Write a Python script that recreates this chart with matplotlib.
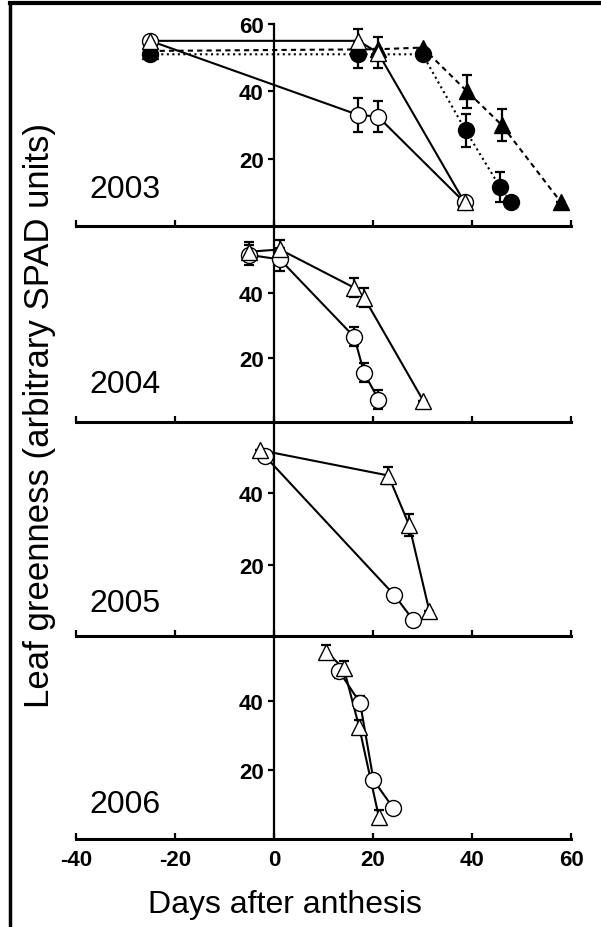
''' leaf greenness after anthesis, four seasons stacked'''
import matplotlib.pyplot as plt
from matplotlib.lines import Line2D

plt.rcParams['font.family'] = ['Liberation Sans', 'DejaVu Sans']
plt.rcParams['axes.unicode_minus'] = False

# ---- data (days after anthesis, SPAD units) ----
years = ['2003', '2004', '2005', '2006']

# 2003
days_03_open_circle = [-25, 17, 21, 38.5]
spad_03_open_circle = [55, 33, 32.5, 7]
err_03_open_circle = [0, 5, 4.5, 0]

days_03_open_tri = [-25, 17, 21, 38.5]
spad_03_open_tri = [55, 55, 51.5, 7]
err_03_open_tri = [0, 3.5, 4.5, 0]

days_03_fill_circle = [-25, 17, 30, 38.7, 45.7, 47.8]
spad_03_fill_circle = [51, 51, 51, 28.4, 11.5, 7.2]
err_03_fill_circle = [0, 4, 0, 5, 4.5, 0]

days_03_fill_tri = [-25, 21, 30, 39, 46, 58]
spad_03_fill_tri = [52, 52.5, 53, 40, 30, 7]
err_03_fill_tri = [0, 0, 0, 5, 4.7, 0]

# 2004
days_04_circle = [-5, 1.2, 16.2, 18.2, 21.1]
spad_04_circle = [52, 50.6, 26.5, 15.3, 7]
err_04_circle = [3, 3.5, 3, 3, 3]

days_04_tri = [-5, 1.2, 16.2, 18.2, 30.2]
spad_04_tri = [53, 53.7, 41.8, 38.7, 6.5]
err_04_tri = [3, 3, 3, 3, 0]

# 2005
days_05_circle = [-1.8, 24.3, 28.1]
spad_05_circle = [50.4, 11.5, 4.5]
err_05_circle = [0, 0, 0]

days_05_tri = [-2.8, 23.1, 27.3, 31.4]
spad_05_tri = [52.1, 45, 31.1, 6.9]
err_05_tri = [0, 2.5, 3, 0]

# 2006
days_06_circle = [13.2, 17.4, 20.1, 24.1]
spad_06_circle = [48.7, 39.5, 17.1, 9.0]
err_06_circle = [2, 2, 1.5, 1.5]

days_06_tri = [10.5, 14.1, 17.2, 21.2]
spad_06_tri = [54.4, 49.6, 32.6, 6.3]
err_06_tri = [2, 2, 2, 2]

x_ticks = [-40, -20, 0, 20, 40, 60]
label_y_pos = [11, 11.7, 9.3, 10.2]

W, H = 601, 928


def draw_series(ax, days, spad, err, marker, filled, style):
    ''' one line with error bars and markers on top'''
    ax.errorbar(days, spad, yerr=err, fmt='none', ecolor='k',
                elinewidth=1.6, capsize=3.5, capthick=1.6, zorder=2)
    ax.plot(days, spad, color='k', lw=1.5, ls=style, zorder=3)
    ax.plot(days, spad, ls='none', marker=marker, ms=11.5,
            mfc='k' if filled else 'white', mec='k', mew=1.0, zorder=4)


def setup_panel(ax, year, ymax, yticks, label_y, bottom):
    ax.set_xlim(-40, 60)
    ax.set_ylim(0, ymax)
    for side in ['top', 'right']:
        ax.spines[side].set_visible(False)
    ax.spines['left'].set_position(('data', 0))
    ax.spines['left'].set_linewidth(1.6)
    ax.spines['bottom'].set_linewidth(2.2)
    ax.set_xticks(x_ticks)
    ax.set_yticks(yticks)
    ax.tick_params(axis='x', direction='in', length=4, width=1.6,
                   labelbottom=bottom, labelsize=16, pad=7)
    ax.tick_params(axis='y', direction='out', length=4.5, width=1.6,
                   labelsize=16, pad=3)
    for lab in ax.get_xticklabels() + ax.get_yticklabels():
        lab.set_fontweight('bold')
    ax.set_facecolor('none')
    ax.text(-37.2, label_y, year, fontsize=23, va='center', ha='left')


fig = plt.figure(figsize=(W / 100, H / 100), dpi=100)

# panel extents in pixels (top, bottom) and y limits
extents = [(25, 227), (227, 423), (423, 637), (637, 840)]
ymaxes = [60, 61, 60, 59]
axes = []
for (top, bot) in extents:
    axes.append(fig.add_axes([76 / W, 1 - bot / H, 495 / W, (bot - top) / H]))

ax = axes[0]
draw_series(ax, days_03_fill_circle, spad_03_fill_circle, err_03_fill_circle, 'o', True, ':')
draw_series(ax, days_03_fill_tri, spad_03_fill_tri, err_03_fill_tri, '^', True, (0, (2.5, 2)))
draw_series(ax, days_03_open_circle, spad_03_open_circle, err_03_open_circle, 'o', False, '-')
draw_series(ax, days_03_open_tri, spad_03_open_tri, err_03_open_tri, '^', False, '-')

ax = axes[1]
draw_series(ax, days_04_circle, spad_04_circle, err_04_circle, 'o', False, '-')
draw_series(ax, days_04_tri, spad_04_tri, err_04_tri, '^', False, '-')

ax = axes[2]
draw_series(ax, days_05_circle, spad_05_circle, err_05_circle, 'o', False, '-')
draw_series(ax, days_05_tri, spad_05_tri, err_05_tri, '^', False, '-')

ax = axes[3]
draw_series(ax, days_06_circle, spad_06_circle, err_06_circle, 'o', False, '-')
draw_series(ax, days_06_tri, spad_06_tri, err_06_tri, '^', False, '-')

for i, ax in enumerate(axes):
    yt = [20, 40, 60] if i == 0 else [20, 40]
    setup_panel(ax, years[i], ymaxes[i], yt, label_y_pos[i], i == 3)
axes[0].spines['left'].set_bounds(0, 60)

fig.text(285 / W, 1 - 905 / H, 'Days after anthesis', fontsize=23,
         ha='center', va='center')
fig.text(40 / W, 1 - 416 / H, 'Leaf greenness (arbitrary SPAD units)',
         fontsize=25, rotation=90, ha='center', va='center')

# outer frame: left and top edges
fig.add_artist(Line2D([10 / W, 10 / W], [0, 1 - 4 / H], color='k', lw=2.5))
fig.add_artist(Line2D([10 / W, 1], [1 - 4 / H, 1 - 4 / H], color='k', lw=3))

fig.savefig('out.png', dpi=100)
